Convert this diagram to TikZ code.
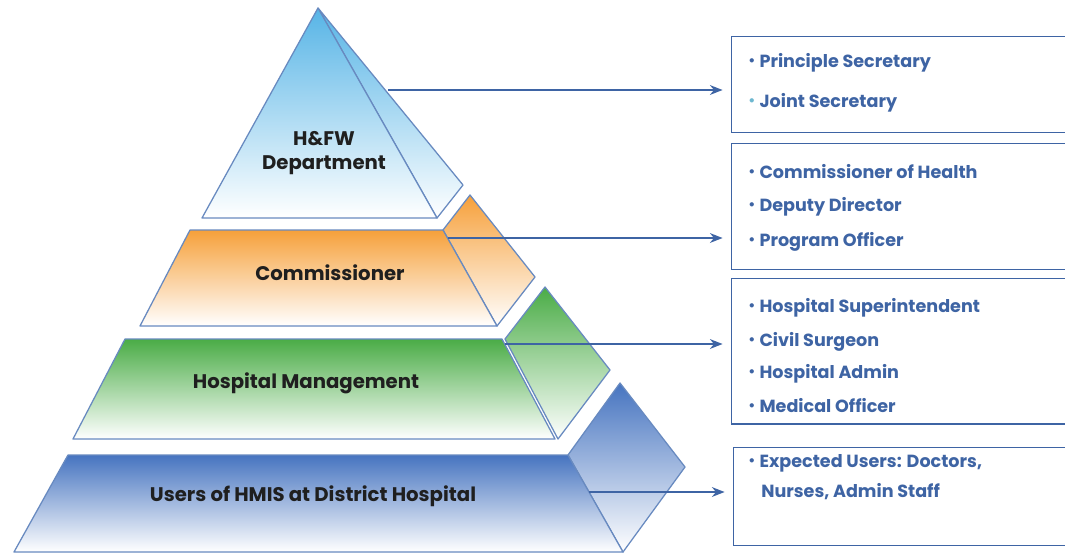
\documentclass[tikz,border=0pt]{standalone}
\usepackage{fontspec}
\setmainfont{Poppins}
\usetikzlibrary{arrows.meta,calc}
\tikzset {>=Stealth}
\definecolor{edge}{RGB}{104,138,192}
\definecolor{ink}{RGB}{62,100,164}
\definecolor{lightdot}{RGB}{110,184,208}
\definecolor{skyblue}{RGB}{86,180,230}
\definecolor{orng}{RGB}{246,160,58}
\definecolor{grn}{RGB}{74,172,70}
\definecolor{dblue}{RGB}{70,116,192}
\tikzset{
  face/.style={draw=edge,line width=0.9pt,line join=round},
  level/.style={font=\bfseries\fontsize{14}{17.5}\selectfont,text=black!88,align=center},
  panel/.style={draw=ink,line width=1pt,fill=white,anchor=north west,inner sep=0pt,minimum width=8.6cm},
  item/.style={font=\bfseries\fontsize{12.5}{15}\selectfont,text=ink,anchor=west,inner sep=0pt},
  link/.style={draw=ink,line width=1.1pt,-{Stealth[length=9pt,width=7pt]},shorten >=6pt},
}
\newcommand*{\dotted}[1]{\textcolor{#1}{\raisebox{1.5pt}{\scalebox{0.8}{\textbullet}}}\hspace{3pt}}

\begin{document}
\begin{tikzpicture}[x=0.025cm,y=-0.025cm]
\clip (0,0) rectangle (1065,554);
\fill[white] (0,0) rectangle (1065,554);
% pyramid, top down
\shade[face,top color=skyblue,bottom color=white] (318,8) -- (463,185) -- (437,218) -- cycle;
\shade[face,top color=skyblue,bottom color=white] (318,8) -- (437,218) -- (202,218) -- cycle;
\shade[face,top color=orng,bottom color=white] (443,230) -- (470,195) -- (535,277) -- (497,326) -- cycle;
\shade[face,top color=orng,bottom color=white] (190,230) -- (443,230) -- (497,326) -- (140,326) -- cycle;
\shade[face,top color=grn,bottom color=white] (505,339) -- (545,287) -- (610,370) -- (558,439) -- cycle;
\shade[face,top color=grn,bottom color=white] (125,339) -- (502,339) -- (555,439) -- (73,439) -- cycle;
\shade[face,top color=dblue,bottom color=white] (568,455) -- (620,383) -- (685,467) -- (623,552) -- cycle;
\shade[face,top color=dblue,bottom color=white] (68,455) -- (568,455) -- (623,552) -- (14,552) -- cycle;
\node[level] (hfw) at (324,153) {H\&FW\\Department};
\node[level] (comm) at (330,273) {Commissioner};
\node[level] (hosp) at (306,383) {Hospital Management};
\node[level] (users) at (313,496) {Users of HMIS at District Hospital};
% boxes
\node[panel,minimum height=2.4cm] (hfwbox) at (731,36) {};
\node[panel,minimum height=3.15cm] (commbox) at (731,143) {};
\node[panel,minimum height=3.63cm] (hospbox) at (731,278) {};
\node[panel,minimum height=2.45cm] (usersbox) at (733,447) {};
\foreach \y/\c/\t in {63/ink/{Principle Secretary},103/lightdot/{Joint Secretary},
    172/ink/{Commissioner of Health},207/ink/{Deputy Director},242/ink/{Program Officer},
    308/ink/{Hospital Superintendent},342/ink/{Civil Surgeon},374/ink/{Hospital Admin},406/ink/{Medical Officer},
    463/ink/{Expected Users: Doctors,}}
  \node[item] at (748,\y) {\dotted{\c}\t};
\node[item] at (761,492) {Nurses, Admin Staff};
% arrows
\coordinate (s1) at (388,90);
\coordinate (s2) at (448,238);
\coordinate (s3) at (505,344);
\coordinate (s4) at (589,492);
\draw[link] (s1) -- (s1 -| hfwbox.west);
\draw[link] (s2) -- (s2 -| commbox.west);
\draw[link] (s3) -- (s3 -| hospbox.west);
\draw[link] (s4) -- (s4 -| usersbox.west);
\end{tikzpicture}
\end{document}
